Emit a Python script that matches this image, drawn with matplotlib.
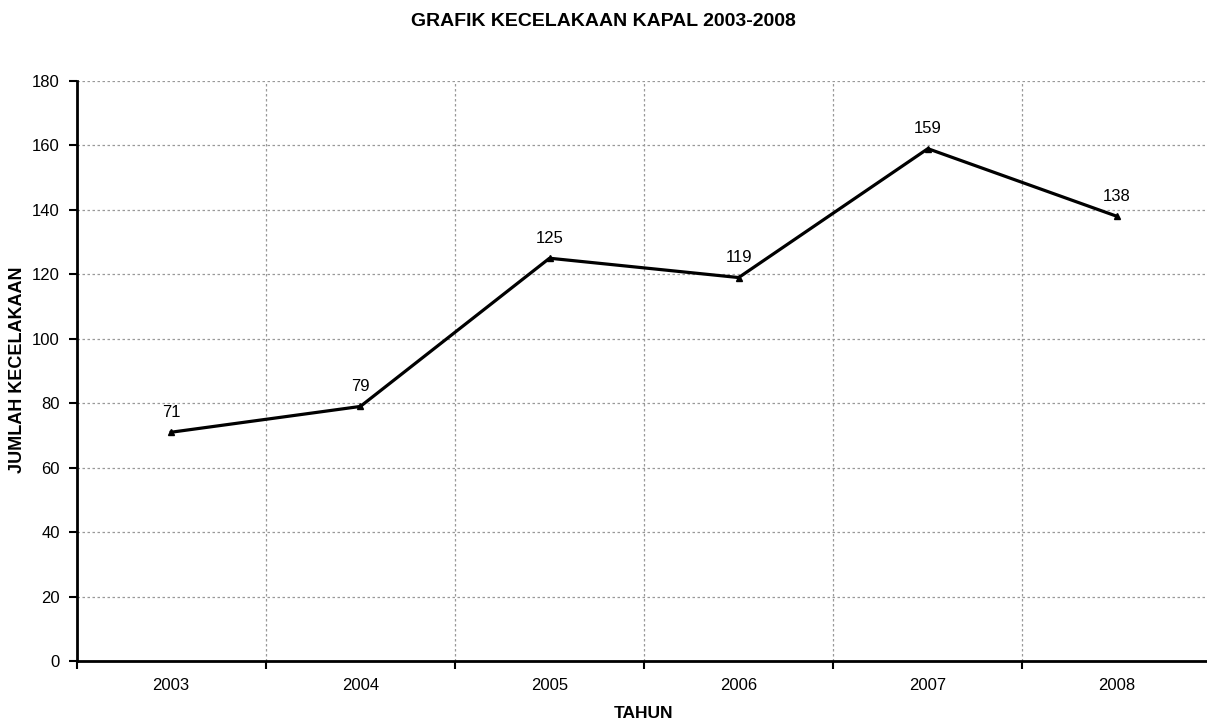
import matplotlib
matplotlib.use("Agg")
import matplotlib.pyplot as plt
from matplotlib.ticker import MultipleLocator, FixedLocator

years = ["2003", "2004", "2005", "2006", "2007", "2008"]
kecelakaan = [71, 79, 125, 119, 159, 138]

plt.rcParams['font.family'] = ['Liberation Sans', 'DejaVu Sans']

fig = plt.figure(figsize=(12.07, 7.23), dpi=100)
ax = fig.add_axes([76.6 / 1207, 62 / 723, 1135 / 1207, 580 / 723])

x = list(range(len(years)))
ax.plot(x, kecelakaan, color='black', linewidth=2.3, marker='^', markersize=4,
        clip_on=False, zorder=3)
for xi, v in zip(x, kecelakaan):
    ax.annotate(str(v), (xi, v), xytext=(0, 9), textcoords='offset points',
                ha='center', va='bottom', fontsize=12)

ax.set_xlim(-0.5, len(years) - 0.5)
ax.set_ylim(0, 180)
ax.yaxis.set_major_locator(MultipleLocator(20))
ax.set_xticks(x)
ax.set_xticklabels(years)
ax.xaxis.set_minor_locator(FixedLocator([i - 0.5 for i in range(len(years) + 1)]))
ax.tick_params(axis='x', which='major', length=0, pad=12, labelsize=12)
ax.tick_params(axis='x', which='minor', length=6, width=1.5, direction='out')
ax.tick_params(axis='y', length=6, width=1.5, direction='out', labelsize=12, pad=6)

ax.grid(True, axis='y', which='major', linestyle=(0, (2, 2)), color='#999999', linewidth=0.9)
ax.grid(True, axis='x', which='minor', linestyle=(0, (2, 2)), color='#999999', linewidth=0.9)
ax.set_axisbelow(True)

for s in ['top', 'right']:
    ax.spines[s].set_visible(False)
for s in ['left', 'bottom']:
    ax.spines[s].set_linewidth(2)

fig.text(0.5, 1 - 22 / 723, "GRAFIK KECELAKAAN KAPAL 2003-2008", ha='center', va='center',
         fontsize=14, fontweight='bold')
fig.text(644 / 1207, 1 - 713 / 723, "TAHUN", ha='center', va='center', fontsize=12.5, fontweight='bold')
fig.text(18 / 1207, 1 - 370 / 723, "JUMLAH KECELAKAAN", ha='center', va='center',
         rotation=90, fontsize=13, fontweight='bold')

fig.savefig("out.png", dpi=100)
